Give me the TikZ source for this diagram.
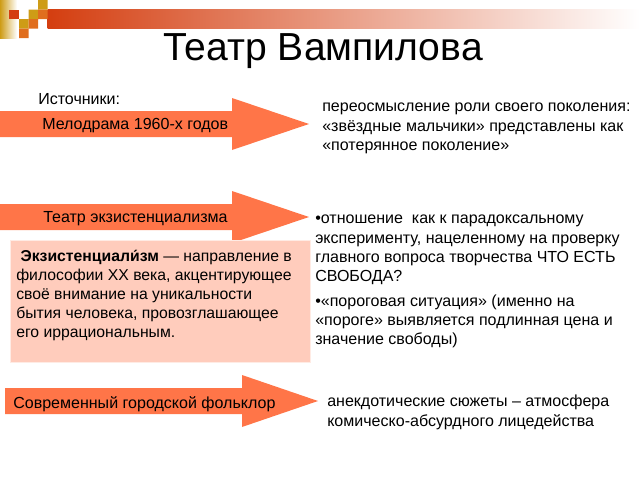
\documentclass[tikz,border=0pt]{standalone}
\usepackage{fontspec}
\setmainfont{Liberation Sans}
\definecolor{strelka}{RGB}{255,117,72}
\definecolor{rozovyj}{RGB}{255,204,188}
\definecolor{zoloto}{RGB}{206,156,22}
\definecolor{krasnyj}{RGB}{212,62,16}
\definecolor{oranzh}{RGB}{224,110,30}
\tikzset{
  txt/.style={anchor=west,inner sep=0pt},
  blok/.style={anchor=north west,inner sep=0pt,align=left}
}
\begin{document}
\begin{tikzpicture}[x=0.025cm,y=-0.025cm,font=\fontsize{11.4}{13.6}\selectfont]
                \def\strelka(#1,#2,#3,#4){(#1,#4-13)--(#2,#4-13)--(#2,#4-26)--(#3,#4)
                        --(#2,#4+26)--(#2,#4+13)--(#1,#4+13)--cycle}
                \useasboundingbox (0,0) rectangle (640,480);
                %===========================================
                \shade[left color=zoloto,right color=white] (0,0) rectangle (17,38);
                \shade[left color=krasnyj,right color=white] (47.5,9.5) rectangle (640,28.5);
                \fill[krasnyj] (9,9.5) rectangle (19,19);
                \fill[zoloto] (28.5,9.5) rectangle (38,19) (38,0) rectangle (47.5,9.5)
                (19,19) rectangle (28.5,28.5);
                \fill[oranzh] (38,9.5) rectangle (47.5,19) (28.5,19) rectangle (38,28.5)
                (19,28.5) rectangle (28.5,38);
                \node (title) at (323,51) {\fontsize{27.8}{30}\selectfont Театр Вампилова};
                %===========================================
                \fill[strelka] \strelka(0,232,309,124);
                \fill[strelka] \strelka(0,232,309,217);
                \fill[strelka] \strelka(5,242,318,401);
                \filldraw[fill=rozovyj,draw=rozovyj!40!white] (10,240) rectangle (310,362);
                \node[txt] (istochniki) at (38,99) {Источники:};
                \node[txt] (melodrama) at (42,126) {Мелодрама 1960-х годов};
                \node[txt] (ekzteatr) at (43,219) {Театр экзистенциализма};
                \node[txt] (folklor) at (13,404) {Современный городской фольклор};
                \node[blok,font=\fontsize{11.2}{13.5}\selectfont] (ekzbox) at (16,250)
                        {\ \textbf{Экзистенциали́зм} — направление в\\
                        философии XX века, акцентирующее\\
                        своё внимание на уникальности\\
                        бытия человека, провозглашающее\\
                        его иррациональным.};
                %===========================================
                \node[blok] (pokolenie) at (322,103) {переосмысление роли своего поколения:\\
                        «звёздные мальчики» представлены как\\
                        «потерянное поколение»};
                \node[blok] (svoboda) at (315,215) {•отношение\ \ как к парадоксальному\\
                        эксперименту, нацеленному на проверку\\
                        главного вопроса творчества ЧТО ЕСТЬ\\
                        СВОБОДА?\\[4.5pt]
                        •«пороговая ситуация» (именно на\\
                        «пороге» выявляется подлинная цена и\\
                        значение свободы)};
                \node[blok] (anekdot) at (327,395) {анекдотические сюжеты – атмосфера\\
                        комическо-абсурдного лицедейства};
        \end{tikzpicture}
\end{document}
